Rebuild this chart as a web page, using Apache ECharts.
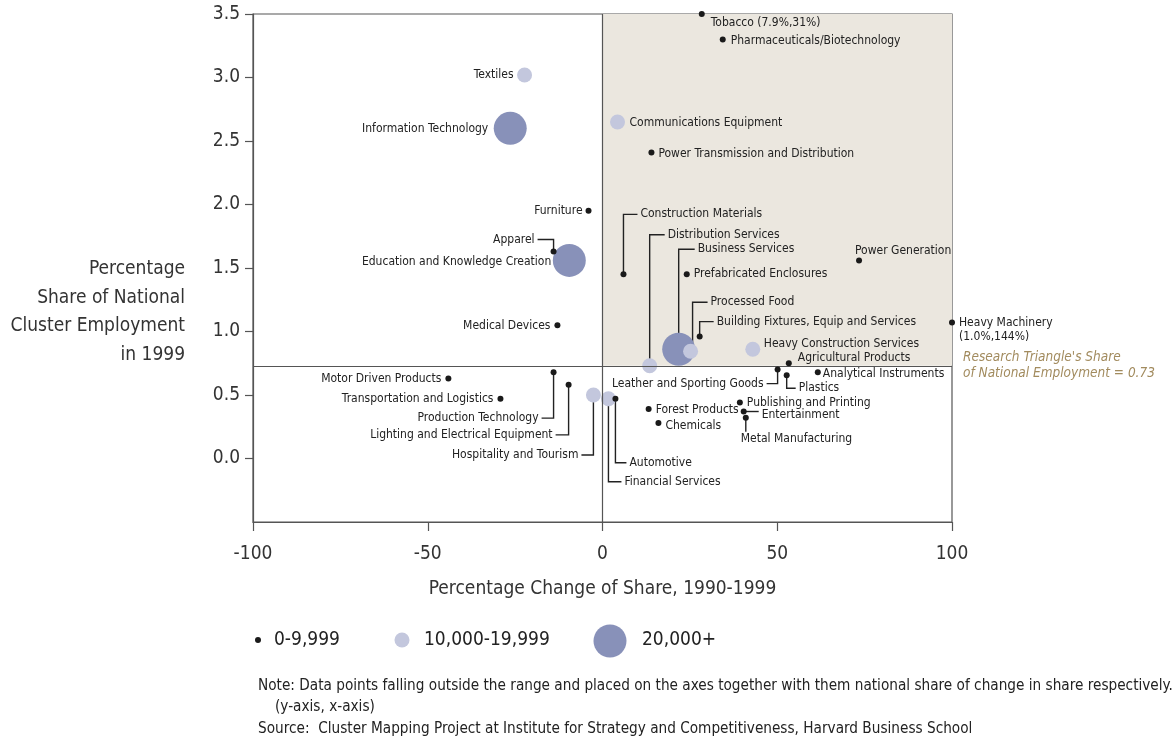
<!DOCTYPE html>
<html><head><meta charset="utf-8">
<script src="https://cdn.jsdelivr.net/npm/echarts@6/dist/echarts.min.js"></script>
<style>html,body{margin:0;padding:0;background:#fff}#c{width:1176px;height:740px}</style>
</head><body><div id="c"></div>
<script>
// ---- data ----
const clusters = [
  "Tobacco (7.9%,31%)","Pharmaceuticals/Biotechnology","Textiles","Information Technology",
  "Communications Equipment","Power Transmission and Distribution","Furniture","Apparel",
  "Education and Knowledge Creation","Medical Devices","Construction Materials","Distribution Services",
  "Business Services","Prefabricated Enclosures","Processed Food","Building Fixtures, Equip and Services",
  "Heavy Construction Services","Agricultural Products","Power Generation","Heavy Machinery\n(1.0%,144%)",
  "Leather and Sporting Goods","Plastics","Analytical Instruments","Publishing and Printing",
  "Entertainment","Metal Manufacturing","Forest Products","Chemicals",
  "Motor Driven Products","Transportation and Logistics","Production Technology","Lighting and Electrical Equipment",
  "Hospitality and Tourism","Financial Services","Automotive"
];
const shareChange = [
  28.4, 34.4, -22.3, -26.4,
  4.3, 14.0, -4.0, -14.0,
  -9.5, -12.9, 6.0, 13.5,
  21.8, 24.1, 25.2, 27.8,
  43.0, 53.3, 73.4, 100,
  50.1, 52.7, 61.6, 39.3,
  40.4, 41.0, 13.2, 16.0,
  -44.1, -29.2, -14.0, -9.7,
  -2.6, 1.7, 3.7
];
const nationalShare = [
  3.5, 3.30, 3.02, 2.60,
  2.65, 2.41, 1.95, 1.63,
  1.56, 1.05, 1.45, 0.73,
  0.86, 1.45, 0.845, 0.96,
  0.86, 0.75, 1.56, 1.07,
  0.70, 0.655, 0.68, 0.44,
  0.37, 0.32, 0.39, 0.28,
  0.63, 0.47, 0.68, 0.58,
  0.50, 0.47, 0.47
];
// 0 = 0-9,999 ; 1 = 10,000-19,999 ; 2 = 20,000+
const employmentClass = [
  0,0,1,2,
  1,0,0,0,
  2,0,0,1,
  2,0,1,0,
  1,0,0,0,
  0,0,0,0,
  0,0,0,0,
  0,0,0,0,
  1,1,0
];
const classLabels = ["0-9,999","10,000-19,999","20,000+"];
const regionShare = 0.73;
const xTicks = [-100, 100, 50];   // min, max, interval
const yTicks = [-0.5, 3.5, 0.5];
const yTickValues = [0, 0.5, 1.0, 1.5, 2.0, 2.5, 3.0, 3.5];

// ---- label layout (pixel offsets from the point; styling only) ----
// [dx, dy, align, leader, extra]
const labelLayout = {
  "Tobacco (7.9%,31%)": [9, 9, 'left', 'none'],
  "Pharmaceuticals/Biotechnology": [8, 1, 'left', 'none'],
  "Textiles": [-11, 0, 'right', 'none'],
  "Information Technology": [-22, 1, 'right', 'none'],
  "Communications Equipment": [12, 1, 'left', 'none'],
  "Power Transmission and Distribution": [7, 1, 'left', 'none'],
  "Furniture": [-6, 0, 'right', 'none'],
  "Apparel": [-19, -12, 'right', 'vh'],
  "Education and Knowledge Creation": [-18, 1, 'right', 'none'],
  "Medical Devices": [-7, 1, 'right', 'none'],
  "Construction Materials": [17, -60, 'left', 'vh'],
  "Distribution Services": [18, -131, 'left', 'vh'],
  "Business Services": [19, -100, 'left', 'vh'],
  "Prefabricated Enclosures": [7, 0, 'left', 'none'],
  "Processed Food": [20, -49, 'left', 'vh', 2],
  "Building Fixtures, Equip and Services": [17, -15, 'left', 'vh'],
  "Heavy Construction Services": [11, -5, 'left', 'none'],
  "Agricultural Products": [9, -5, 'left', 'none'],
  "Power Generation": [-4, -10, 'left', 'none'],
  "Heavy Machinery\n(1.0%,144%)": [7, -7, 'left', 'none', 'top'],
  "Leather and Sporting Goods": [-14, 14, 'right', 'vh'],
  "Plastics": [12, 13, 'left', 'vh'],
  "Analytical Instruments": [5, 2, 'left', 'none'],
  "Publishing and Printing": [7, 0, 'left', 'none'],
  "Entertainment": [18, 3, 'left', 'h'],
  "Metal Manufacturing": [-5, 21, 'left', 'v'],
  "Forest Products": [7, 1, 'left', 'none'],
  "Chemicals": [7, 3, 'left', 'none'],
  "Motor Driven Products": [-7, 0, 'right', 'none'],
  "Transportation and Logistics": [-7, 0, 'right', 'none'],
  "Production Technology": [-15, 46, 'right', 'vh'],
  "Lighting and Electrical Equipment": [-16, 50, 'right', 'vh'],
  "Hospitality and Tourism": [-15, 60, 'right', 'vh'],
  "Financial Services": [16, 83, 'left', 'vh'],
  "Automotive": [14, 64, 'left', 'vh']
};

const FONT = "'Liberation Sans Narrow','DejaVu Sans Condensed','Roboto Condensed',sans-serif";
const classColor = ['#1a1a1a', '#c3c7dd', '#8891b9'];
const classSize = [6, 15, 33];

const chart = echarts.init(document.getElementById('c'), null, {renderer: 'canvas'});

function pointsOfClass(k) {
  const out = [];
  for (let i = 0; i < clusters.length; i++) {
    if (employmentClass[i] === k) out.push({value: [shareChange[i], nationalShare[i]], name: clusters[i]});
  }
  return out;
}
const labelData = clusters.map((n, i) => [shareChange[i], nationalShare[i], i]);

function renderLabel(params, api) {
  const i = api.value(2);
  const name = clusters[i];
  const p = api.coord([api.value(0), api.value(1)]);
  const L = labelLayout[name] || [6, 0, 'left', 'none'];
  const dx = L[0], dy = L[1], align = L[2], leader = L[3];
  const tx = p[0] + dx, ty = p[1] + dy;
  const children = [];
  const sgn = align === 'left' ? 1 : -1;
  const ls = {stroke: '#222', lineWidth: 1.4, fill: null};
  if (leader === 'vh') {
    const startX = p[0] + (typeof L[4] === 'number' ? L[4] : 0);
    children.push({type: 'polyline', shape: {points: [[startX, p[1]], [startX, ty], [tx - sgn * 3, ty]]}, style: ls, z2: 1});
  } else if (leader === 'h') {
    children.push({type: 'line', shape: {x1: p[0], y1: p[1], x2: tx - 3, y2: p[1]}, style: ls, z2: 1});
  } else if (leader === 'v') {
    children.push({type: 'line', shape: {x1: p[0], y1: p[1], x2: p[0], y2: ty - 7}, style: ls, z2: 1});
  }
  children.push({
    type: 'text', x: tx, y: ty, z2: 5,
    style: {text: name, fill: '#222', font: '12px ' + FONT, align: align,
      verticalAlign: L[4] === 'top' ? 'top' : 'middle', lineHeight: 14}
  });
  return {type: 'group', children: children};
}

const option = {
  backgroundColor: '#fff',
  animation: false,
  grid: {left: 253, right: 224, top: 14, bottom: 218, show: true, borderColor: '#555', borderWidth: 1.2, backgroundColor: 'transparent'},
  xAxis: {
    type: 'value', min: xTicks[0], max: xTicks[1], interval: xTicks[2],
    splitLine: {show: false},
    axisLine: {show: true, onZero: false, lineStyle: {color: '#555', width: 1.2}},
    axisTick: {show: true, length: 9, lineStyle: {color: '#555', width: 1.2}},
    axisLabel: {color: '#333', fontSize: 19, fontFamily: FONT, margin: 23},
    name: 'Percentage Change of Share, 1990-1999', nameLocation: 'middle', nameGap: 58,
    nameTextStyle: {color: '#333', fontSize: 19, fontFamily: FONT}
  },
  yAxis: {
    type: 'value', min: yTicks[0], max: yTicks[1], interval: yTicks[2],
    splitLine: {show: false},
    axisLine: {show: true, onZero: false, lineStyle: {color: '#555', width: 1.2}},
    axisTick: {show: true, length: 8, customValues: yTickValues, lineStyle: {color: '#555', width: 1.2}},
    axisLabel: {color: '#333', fontSize: 19, fontFamily: FONT, margin: 13, customValues: yTickValues,
      formatter: v => v < 0 ? '' : v.toFixed(1)}
  },
  series: [
    {
      type: 'scatter', name: classLabels[2], data: pointsOfClass(2), symbolSize: classSize[2], clip: false, z: 3,
      itemStyle: {color: classColor[2], opacity: 1}, silent: true,
      markArea: {silent: true, itemStyle: {color: '#ebe7df'},
        data: [[{coord: [0, regionShare]}, {coord: [xTicks[1], yTicks[1]]}]]},
      markLine: {silent: true, symbol: 'none', label: {show: false},
        lineStyle: {color: '#555', width: 1.2, type: 'solid'},
        data: [{yAxis: regionShare}, {xAxis: 0}]}
    },
    {type: 'scatter', name: classLabels[1], data: pointsOfClass(1), symbolSize: classSize[1], clip: false, z: 4,
      itemStyle: {color: classColor[1], opacity: 1}, silent: true},
    {type: 'scatter', name: classLabels[0], data: pointsOfClass(0), symbolSize: classSize[0], clip: false, z: 5,
      itemStyle: {color: classColor[0], opacity: 1}, silent: true},
    {type: 'custom', data: labelData, renderItem: renderLabel, clip: false, z: 2, silent: true}
  ],
  graphic: [
    {type: 'text', x: 185, y: 312, style: {text: 'Percentage\nShare of National\nCluster Employment\nin 1999',
      fill: '#333', font: '19px ' + FONT, align: 'right', verticalAlign: 'middle', lineHeight: 28.5}},
    {type: 'text', x: 963, y: 349, style: {text: "Research Triangle's Share\nof National Employment = " + regionShare,
      fill: '#a28b5e', font: 'italic 13.5px ' + FONT, lineHeight: 16}},
    // legend
    {type: 'circle', shape: {cx: 258, cy: 640, r: classSize[0] / 2}, style: {fill: classColor[0]}},
    {type: 'text', x: 274, y: 640, style: {text: classLabels[0], fill: '#222', font: '19px ' + FONT, verticalAlign: 'middle'}},
    {type: 'circle', shape: {cx: 402, cy: 640, r: classSize[1] / 2}, style: {fill: classColor[1]}},
    {type: 'text', x: 424, y: 640, style: {text: classLabels[1], fill: '#222', font: '19px ' + FONT, verticalAlign: 'middle'}},
    {type: 'circle', shape: {cx: 610, cy: 641, r: classSize[2] / 2}, style: {fill: classColor[2]}},
    {type: 'text', x: 642, y: 640, style: {text: classLabels[2], fill: '#222', font: '19px ' + FONT, verticalAlign: 'middle'}},
    // notes
    {type: 'text', x: 258, y: 686, style: {text: 'Note: Data points falling outside the range and placed on the axes together with them national share of change in share respectively.',
      fill: '#222', font: '15.2px ' + FONT, verticalAlign: 'middle'}},
    {type: 'text', x: 275, y: 707, style: {text: '(y-axis, x-axis)', fill: '#222', font: '15.2px ' + FONT, verticalAlign: 'middle'}},
    {type: 'text', x: 258, y: 729, style: {text: 'Source:  Cluster Mapping Project at Institute for Strategy and Competitiveness, Harvard Business School',
      fill: '#222', font: '15.2px ' + FONT, verticalAlign: 'middle'}}
  ]
};
chart.setOption(option);
</script></body></html>
